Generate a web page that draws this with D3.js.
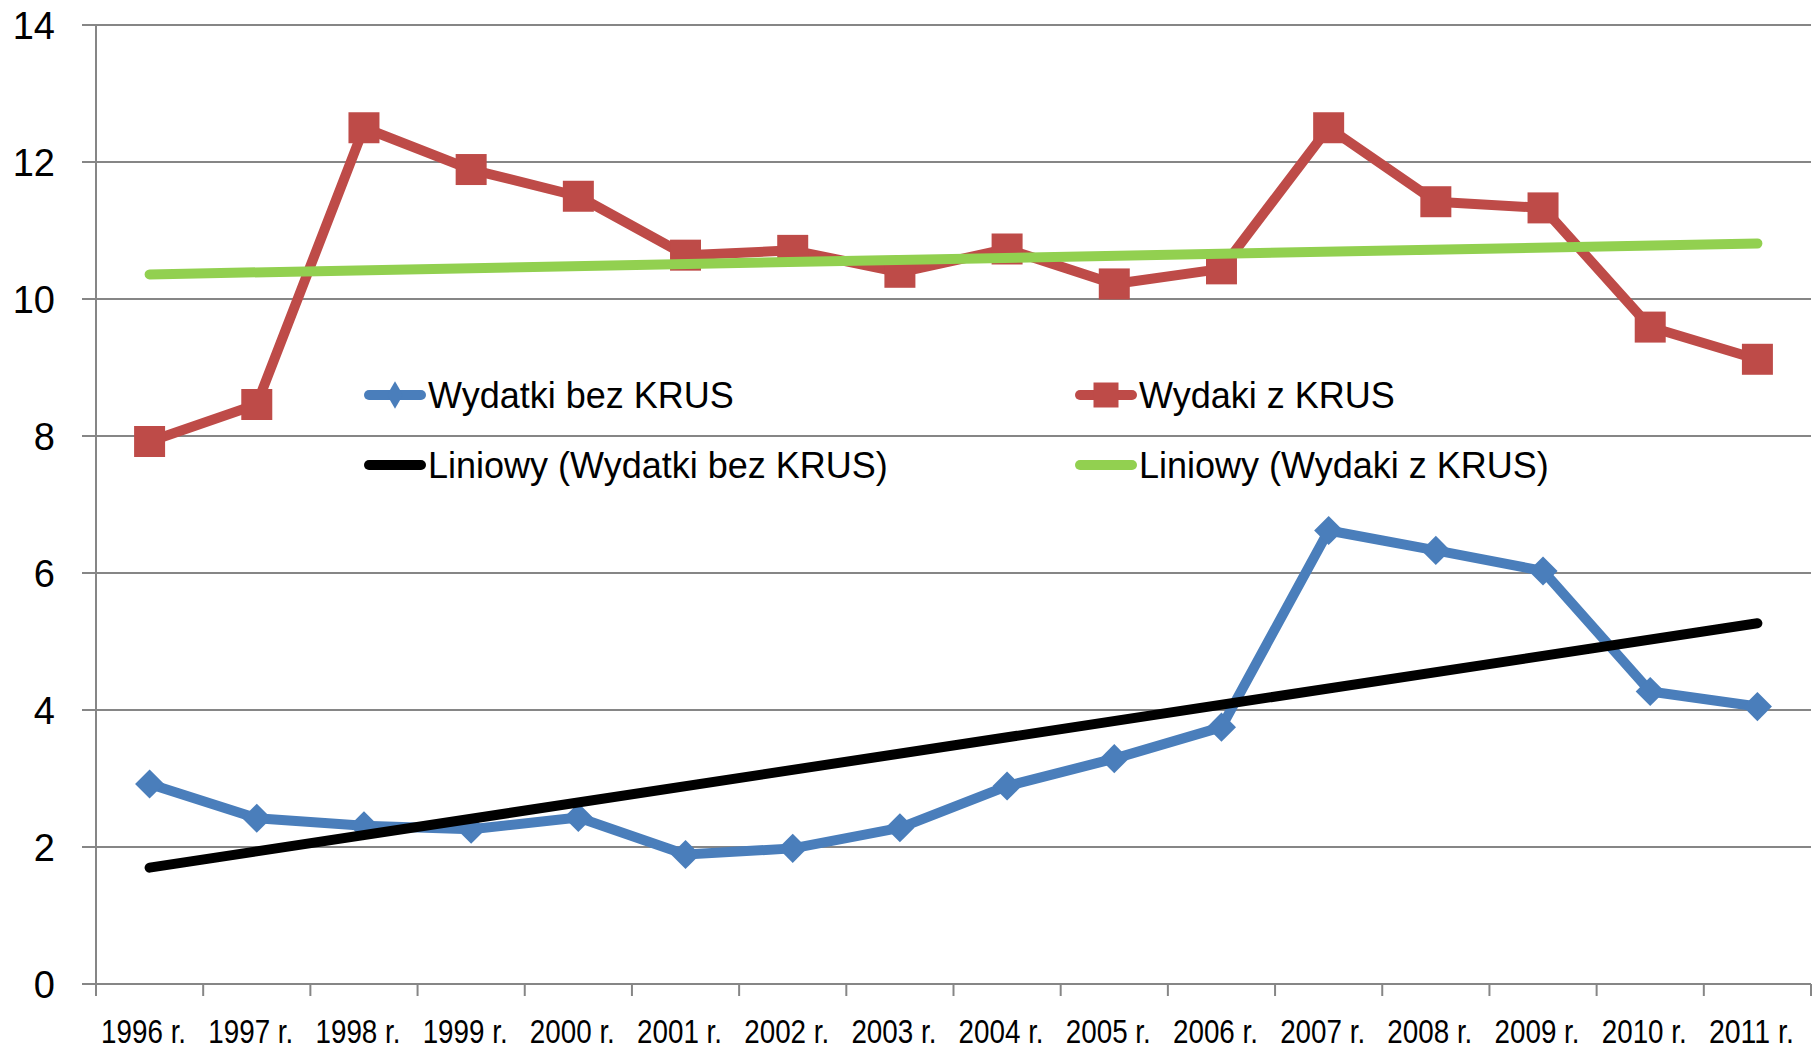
<!DOCTYPE html>
<html>
<head>
<meta charset="utf-8">
<script src="https://cdn.jsdelivr.net/npm/d3@7/dist/d3.min.js"></script>
<style>
  body { margin: 0; background: #fff; }
  text { font-family: "Liberation Sans", Arial, sans-serif; fill: #000; }
</style>
</head>
<body>
<svg width="1814" height="1050"></svg>
<script>
const years = ["1996 r.", "1997 r.", "1998 r.", "1999 r.", "2000 r.", "2001 r.", "2002 r.", "2003 r.",
  "2004 r.", "2005 r.", "2006 r.", "2007 r.", "2008 r.", "2009 r.", "2010 r.", "2011 r."];
const bezKrus = [2.92, 2.42, 2.31, 2.26, 2.43, 1.89, 1.98, 2.28, 2.89, 3.29, 3.75, 6.62, 6.33, 6.03, 4.27, 4.05];
const zKrus = [7.92, 8.46, 12.5, 11.89, 11.5, 10.64, 10.71, 10.39, 10.73, 10.22, 10.44, 12.5, 11.42, 11.33, 9.59, 9.12];
const yTicks = [0, 2, 4, 6, 8, 10, 12, 14];
const legendNames = ["Wydatki bez KRUS", "Wydaki z KRUS", "Liniowy (Wydatki bez KRUS)", "Liniowy (Wydaki z KRUS)"];

const colors = { blue: "#4a7ebb", red: "#be4b48", black: "#000", green: "#92d050", grid: "#868686" };

const svg = d3.select("svg");
const plotLeft = 96, plotRight = 1811, plotTop = 25, plotBottom = 984;

const x = d3.scaleBand().domain(years).range([plotLeft, plotRight]);
const y = d3.scaleLinear().domain([0, 14]).range([plotBottom, plotTop]);
const cx = d => x(d) + x.bandwidth() / 2;

// horizontal gridlines (with small stub left of the axis)
svg.append("g").selectAll("line").data(yTicks).join("line")
  .attr("x1", plotLeft - 14).attr("x2", plotRight)
  .attr("y1", d => y(d)).attr("y2", d => y(d))
  .attr("stroke", colors.grid).attr("stroke-width", 2);

// y labels
svg.append("g").selectAll("text").data(yTicks).join("text")
  .attr("x", 55).attr("y", d => y(d)).attr("dy", "0.36em")
  .attr("text-anchor", "end").attr("font-size", 38)
  .text(d => d);

// vertical axis line
svg.append("line").attr("x1", plotLeft).attr("x2", plotLeft).attr("y1", plotTop).attr("y2", plotBottom + 12)
  .attr("stroke", colors.grid).attr("stroke-width", 2);

// category tick marks at band edges
svg.append("g").selectAll("line").data(years.map(x).concat([plotRight])).join("line")
  .attr("x1", d => d).attr("x2", d => d)
  .attr("y1", plotBottom).attr("y2", plotBottom + 12)
  .attr("stroke", colors.grid).attr("stroke-width", 2);

// x labels (condensed to mimic the narrow original face)
svg.append("g").selectAll("text").data(years).join("text")
  .attr("x", d => cx(d) - 6).attr("y", 1043)
  .attr("text-anchor", "middle").attr("font-size", 33)
  .attr("textLength", 85).attr("lengthAdjust", "spacingAndGlyphs")
  .text(d => d);

// least squares trend, evaluated at first and last category
function trend(values) {
  const n = values.length;
  const mx = (n - 1) / 2;
  const my = d3.mean(values);
  let sxy = 0, sxx = 0;
  values.forEach((v, i) => { sxy += (i - mx) * (v - my); sxx += (i - mx) * (i - mx); });
  const b = sxy / sxx;
  return [0, n - 1].map(i => ({ cat: years[i], v: my + b * (i - mx) }));
}

const line = d3.line().x(d => cx(d.cat)).y(d => y(d.v));
const toPts = vals => vals.map((v, i) => ({ cat: years[i], v }));

const diamond = d3.symbol().type(d3.symbolDiamond2).size(540);
const square = s => `M${-s / 2},${-s / 2}h${s}v${s}h${-s}Z`;

// series: Wydatki bez KRUS
svg.append("path").datum(toPts(bezKrus)).attr("d", line)
  .attr("fill", "none").attr("stroke", colors.blue).attr("stroke-width", 10).attr("stroke-linejoin", "round");
svg.append("g").selectAll("path").data(toPts(bezKrus)).join("path")
  .attr("transform", d => `translate(${cx(d.cat)},${y(d.v)})`)
  .attr("d", diamond).attr("fill", colors.blue);

// series: Wydaki z KRUS
svg.append("path").datum(toPts(zKrus)).attr("d", line)
  .attr("fill", "none").attr("stroke", colors.red).attr("stroke-width", 10).attr("stroke-linejoin", "round");
svg.append("g").selectAll("path").data(toPts(zKrus)).join("path")
  .attr("transform", d => `translate(${cx(d.cat)},${y(d.v)})`)
  .attr("d", square(31)).attr("fill", colors.red);

// trend lines on top
svg.append("path").datum(trend(bezKrus)).attr("d", line)
  .attr("fill", "none").attr("stroke", colors.black).attr("stroke-width", 10).attr("stroke-linecap", "round");
svg.append("path").datum(trend(zKrus)).attr("d", line)
  .attr("fill", "none").attr("stroke", colors.green).attr("stroke-width", 10).attr("stroke-linecap", "round");

// legend
const legendItems = [
  { name: legendNames[0], color: colors.blue, marker: "diamond", x: 364, y: 395 },
  { name: legendNames[1], color: colors.red, marker: "square", x: 1075, y: 395 },
  { name: legendNames[2], color: colors.black, marker: null, x: 364, y: 465 },
  { name: legendNames[3], color: colors.green, marker: null, x: 1075, y: 465 }
];
const lg = svg.append("g").selectAll("g").data(legendItems).join("g")
  .attr("transform", d => `translate(${d.x},${d.y})`);
lg.append("line").attr("x1", 5).attr("x2", 57)
  .attr("stroke", d => d.color).attr("stroke-width", 10).attr("stroke-linecap", "round");
lg.filter(d => d.marker === "diamond").append("path")
  .attr("transform", "translate(31,0) scale(0.55,0.95)")
  .attr("d", diamond).attr("fill", d => d.color);
lg.filter(d => d.marker === "square").append("path")
  .attr("transform", "translate(31,0)")
  .attr("d", square(25)).attr("fill", d => d.color);
lg.append("text").attr("x", 64).attr("dy", "0.35em").attr("font-size", 36)
  .text(d => d.name);
</script>
</body>
</html>
